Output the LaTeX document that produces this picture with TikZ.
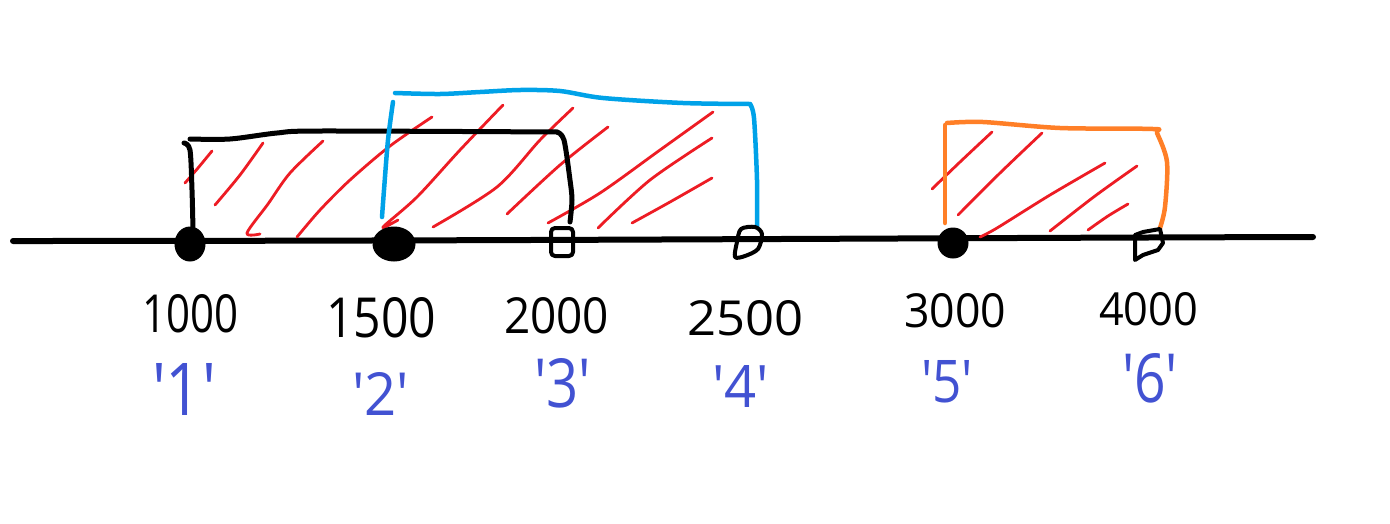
\documentclass[tikz,border=0pt]{standalone}
\usepackage{fontspec}
\setmainfont{Open Sans}
\newfontfamily\keyfont{Open Sans}
\usepackage{graphicx}
\definecolor{pblue}{RGB}{0,162,232}
\definecolor{porange}{RGB}{255,127,39}
\definecolor{pred}{RGB}{237,28,36}
\definecolor{lblue}{RGB}{66,82,210}
\tikzset{
  axisline/.style={line width=6pt, line cap=round, black},
  blackstroke/.style={line width=5pt, line cap=round, line join=round, black},
  bluestroke/.style={line width=4.5pt, line cap=round, line join=round, pblue},
  orangestroke/.style={line width=4.5pt, line cap=round, line join=round, porange},
  hatch/.style={line width=2.8pt, line cap=round, line join=round, pred},
  closedpt/.style={fill=black, draw=black, line width=1pt},
  openpt/.style={line width=4pt, line join=round, black},
  numlbl/.style={inner sep=0pt, outer sep=0pt, anchor=north west, black},
  keylbl/.style={inner sep=0pt, outer sep=0pt, anchor=north west, text=lblue, font=\keyfont},
}
\newcommand{\fitbox}[3]{\resizebox{#1pt}{#2pt}{#3}}
\begin{document}
\begin{tikzpicture}[x=1pt,y=-1pt]
\useasboundingbox (0,0) rectangle (1390,523);

% axis
\coordinate (axL) at (13,241);
\coordinate (axR) at (1313,237);
\draw[axisline] (axL) .. controls (500,241) and (900,238) .. (axR);

% red hatching (left/middle region)
\draw[hatch] plot[smooth] coordinates {(185,183) (198,168) (212,151)};
\draw[hatch] plot[smooth] coordinates {(215,205) (240,175) (263,143)};
\draw[hatch] plot[smooth] coordinates {(260,234) (247,233) (268,204) (290,173) (323,141)};
\draw[hatch] plot[smooth] coordinates {(297,237) (320,210) (350,180) (390,146) (432,117)};
\draw[hatch] plot[smooth] coordinates {(398,220) (383,227) (417,197) (460,150) (503,105)};
\draw[hatch] plot[smooth] coordinates {(433,227) (497,187) (540,140) (573,108)};
\draw[hatch] plot[smooth] coordinates {(507,214) (560,165) (608,127)};
\draw[hatch] plot[smooth] coordinates {(548,223) (600,193) (660,150) (713,112)};
\draw[hatch] plot[smooth] coordinates {(598,228) (650,180) (712,138)};
\draw[hatch] plot[smooth] coordinates {(632,223) (670,202) (712,178)};
% red hatching (right region)
\draw[hatch] plot[smooth] coordinates {(932,189) (960,162) (992,132)};
\draw[hatch] plot[smooth] coordinates {(958,215) (1000,173) (1042,133)};
\draw[hatch] plot[smooth] coordinates {(980,237) (997,228) (1050,195) (1105,163)};
\draw[hatch] plot[smooth] coordinates {(1050,231) (1095,196) (1137,166)};
\draw[hatch] plot[smooth] coordinates {(1088,230) (1108,216) (1128,204)};

% black interval [1000,2000)
\draw[blackstroke] plot[smooth] coordinates {(184,143) (190,150) (192,190) (193,230)};
\draw[blackstroke] plot[smooth] coordinates {(190,139) (230,139) (277,133) (320,131) (557,132)};
\draw[blackstroke] plot[smooth] coordinates {(557,132) (564,140) (570,180) (572,200) (570,222)};

% blue interval [1500,2500)
\draw[bluestroke] plot[smooth] coordinates {(393,102) (388,140) (384,190) (382,217)};
\draw[bluestroke] plot[smooth] coordinates {(395,93) (440,94) (480,92) (520,90) (560,91) (603,98) (683,103) (750,104)};
\draw[bluestroke] plot[smooth] coordinates {(750,104) (754,118) (757,180) (757,227)};

% orange interval [3000,4000)
\draw[orangestroke] (945,125) -- (945,223);
\draw[orangestroke] plot[smooth] coordinates {(947,123) (983,122) (1060,128) (1153,129) (1157,133) (1167,162) (1165,207) (1160,228)};

% end points
\coordinate (p1000) at (190,244);
\coordinate (p1500) at (394,244);
\coordinate (p2000) at (562,242);
\coordinate (p2500) at (748,242);
\coordinate (p3000) at (953,243);
\coordinate (p4000) at (1149,244);
\filldraw[closedpt] (p1000) ellipse [x radius=15, y radius=17];
\filldraw[closedpt] (p1500) ellipse [x radius=21, y radius=17];
\filldraw[closedpt] (p3000) ellipse [x radius=15, y radius=15];
\draw[openpt, rounded corners=4pt] (551,228) rectangle (573,256);
\draw[openpt] plot[smooth cycle] coordinates {(741,229) (755,227) (762,234) (758,249) (745,256) (735,257) (737,242)};
\draw[openpt] (1135,260) -- (1135,235) -- (1143,232) -- (1160,229) -- (1163,243) -- (1158,250) -- (1143,255) -- cycle;

% number labels
\node[numlbl] (n1000) at (142,294) {\fitbox{96}{38}{1000}};
\node[numlbl] (n1500) at (326,297) {\fitbox{110}{40}{1500}};
\node[numlbl] (n2000) at (504,297) {\fitbox{105}{36}{2000}};
\node[numlbl] (n2500) at (687,300) {\fitbox{116}{35}{2500}};
\node[numlbl] (n3000) at (904,293) {\fitbox{102}{34}{3000}};
\node[numlbl] (n4000) at (1099,292) {\fitbox{99}{33}{4000}};

% key labels
\node[keylbl] (k1) at (152,363) {\fitbox{64}{52}{'1'}};
\node[keylbl] (k2) at (352,372) {\fitbox{57}{43}{'2'}};
\node[keylbl] (k3) at (534,358) {\fitbox{57}{49}{'3'}};
\node[keylbl] (k4) at (712,365) {\fitbox{57}{42}{'4'}};
\node[keylbl] (k5) at (921,360) {\fitbox{52}{42}{'5'}};
\node[keylbl] (k6) at (1122,353) {\fitbox{56}{49}{'6'}};
\end{tikzpicture}
\end{document}
